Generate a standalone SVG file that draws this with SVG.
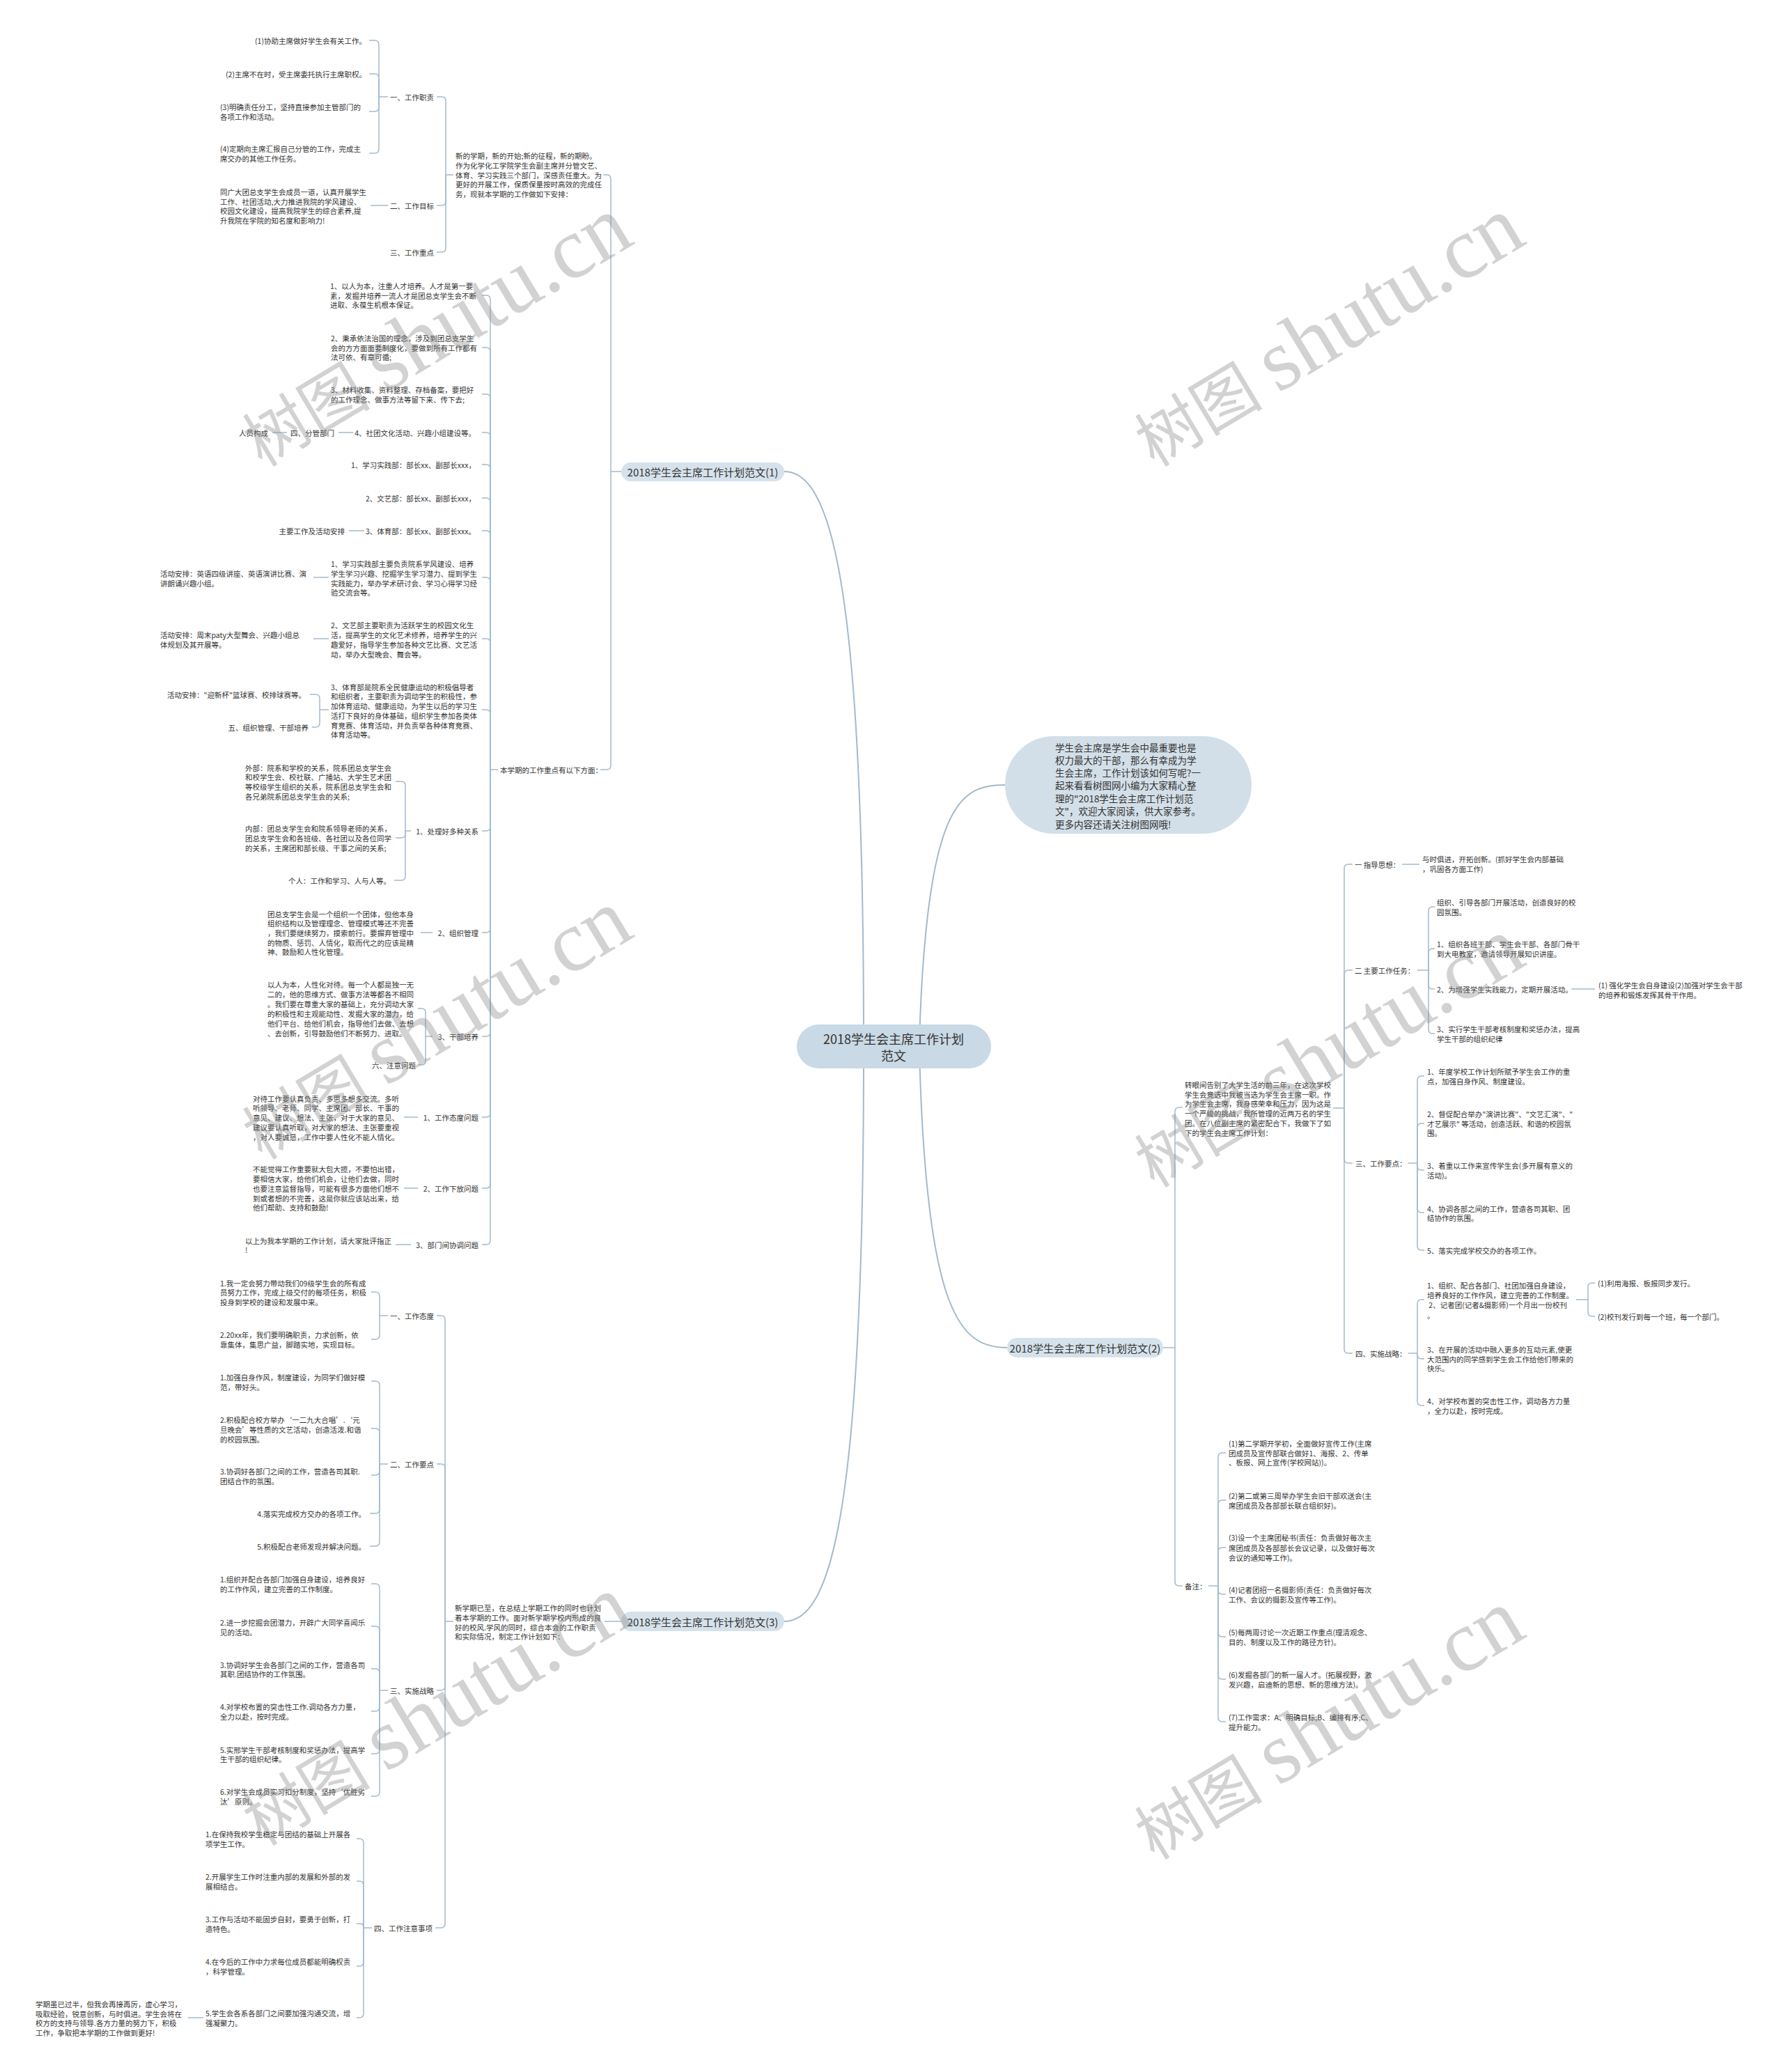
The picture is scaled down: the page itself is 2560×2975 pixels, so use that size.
<svg xmlns="http://www.w3.org/2000/svg" width="2560" height="2975" viewBox="0 0 2560 2975">
<style>
.t{font-family:"Noto Sans CJK SC","Liberation Sans",sans-serif;font-size:10.5px;fill:#333;dominant-baseline:central}
.e{text-anchor:end}
.c{fill:none;stroke:#a3bacb;stroke-width:1.5}
.cr{fill:none;stroke:#a3bacb;stroke-width:2}
.pill{fill:#d6e2eb}
.bt{font-family:"Noto Sans CJK SC","Liberation Sans",sans-serif;font-size:15px;fill:#333;text-anchor:middle;dominant-baseline:central}
.wm{font-family:"Liberation Serif","Noto Sans CJK SC",serif;fill:#8a8a8a;opacity:.38;text-anchor:middle}
</style>
<rect width="2560" height="2975" fill="#fff"/>
<g id="connectors">
<path class="cr" d="M1240,1495 C1240,820 1190,677 1126,677"/>
<path class="cr" d="M1320,1495 C1330,1150 1380,1127 1443,1127"/>
<path class="cr" d="M1320,1510 C1330,1890 1380,1935 1446,1935"/>
<path class="cr" d="M1240,1510 C1240,2190 1190,2328 1126,2328"/>
<!-- branch 1 -->
<path class="c" d="M892,677H877"/>
<path class="c" d="M877,677V257Q877,251 871,251H866"/>
<path class="c" d="M877,677V1099Q877,1105 871,1105H862"/>
<path class="c" d="M651,251H640"/>
<path class="c" d="M640,251V145Q640,139 634,139H627"/>
<path class="c" d="M640,251V289Q640,295 634,295H627"/>
<path class="c" d="M640,251V356Q640,362 634,362H627"/>
<path class="c" d="M557,139H544"/>
<path class="c" d="M544,139V64Q544,58 538,58H530"/>
<path class="c" d="M544,139V112Q544,106 538,106H530"/>
<path class="c" d="M544,139V154Q544,160 538,160H530"/>
<path class="c" d="M544,139V214Q544,220 538,220H530"/>
<path class="c" d="M557,295H532"/>
<path class="c" d="M715,1105H704"/>
<path class="c" d="M704,1105V430Q704,424 698,424H692"/>
<path class="c" d="M704,1105V505Q704,499 698,499H692"/>
<path class="c" d="M704,1105V572Q704,566 698,566H692"/>
<path class="c" d="M704,1105V627Q704,621 698,621H692"/>
<path class="c" d="M704,1105V673Q704,667 698,667H692"/>
<path class="c" d="M704,1105V721Q704,715 698,715H692"/>
<path class="c" d="M704,1105V768Q704,762 698,762H692"/>
<path class="c" d="M704,1105V835Q704,829 698,829H692"/>
<path class="c" d="M704,1105V923Q704,917 698,917H692"/>
<path class="c" d="M704,1105V1025Q704,1019 698,1019H692"/>
<path class="c" d="M704,1105V1187Q704,1193 698,1193H692"/>
<path class="c" d="M704,1105V1333Q704,1339 698,1339H692"/>
<path class="c" d="M704,1105V1482Q704,1488 698,1488H692"/>
<path class="c" d="M704,1105V1598Q704,1604 698,1604H692"/>
<path class="c" d="M704,1105V1700Q704,1706 698,1706H692"/>
<path class="c" d="M704,1105V1781Q704,1787 698,1787H692"/>
<path class="c" d="M507,621H486"/>
<path class="c" d="M412,621H391"/>
<path class="c" d="M523,762H501"/>
<path class="c" d="M472,829H450"/>
<path class="c" d="M472,917H450"/>
<path class="c" d="M472,1019H459"/>
<path class="c" d="M459,1019V1003Q459,997 453,997H445"/>
<path class="c" d="M459,1019V1038Q459,1044 453,1044H448"/>
<path class="c" d="M590,1193H582"/>
<path class="c" d="M582,1193V1128Q582,1122 576,1122H568"/>
<path class="c" d="M582,1193V1197Q582,1203 576,1203H568"/>
<path class="c" d="M582,1193V1258Q582,1264 576,1264H566"/>
<path class="c" d="M621,1339H604"/>
<path class="c" d="M621,1488H611"/>
<path class="c" d="M611,1488V1454Q611,1448 605,1448H600"/>
<path class="c" d="M611,1488V1523Q611,1529 605,1529H601"/>
<path class="c" d="M600,1604H580"/>
<path class="c" d="M600,1706H580"/>
<path class="c" d="M590,1787H568"/>
<!-- branch 3 -->
<path class="c" d="M892,2328H868"/>
<path class="c" d="M651,2328H639"/>
<path class="c" d="M639,2328V1895Q639,1889 633,1889H627"/>
<path class="c" d="M639,2328V2108Q639,2102 633,2102H627"/>
<path class="c" d="M639,2328V2421Q639,2427 633,2427H627"/>
<path class="c" d="M639,2328V2762Q639,2768 633,2768H625"/>
<path class="c" d="M557,1889H545"/>
<path class="c" d="M545,1889V1861Q545,1855 539,1855H533"/>
<path class="c" d="M545,1889V1917Q545,1923 539,1923H533"/>
<path class="c" d="M557,2102H545"/>
<path class="c" d="M545,2102V1989Q545,1983 539,1983H533"/>
<path class="c" d="M545,2102V2057Q545,2051 539,2051H533"/>
<path class="c" d="M545,2102V2112Q545,2118 539,2118H533"/>
<path class="c" d="M545,2102V2167Q545,2173 539,2173H531"/>
<path class="c" d="M545,2102V2214Q545,2220 539,2220H531"/>
<path class="c" d="M557,2427H545"/>
<path class="c" d="M545,2427V2280Q545,2274 539,2274H533"/>
<path class="c" d="M545,2427V2341Q545,2335 539,2335H533"/>
<path class="c" d="M545,2427V2402Q545,2396 539,2396H533"/>
<path class="c" d="M545,2427V2451Q545,2457 539,2457H533"/>
<path class="c" d="M545,2427V2512Q545,2518 539,2518H533"/>
<path class="c" d="M545,2427V2573Q545,2579 539,2579H533"/>
<path class="c" d="M534,2768H522"/>
<path class="c" d="M522,2768V2646Q522,2640 516,2640H512"/>
<path class="c" d="M522,2768V2707Q522,2701 516,2701H512"/>
<path class="c" d="M522,2768V2767Q522,2762 517,2762H512"/>
<path class="c" d="M522,2768V2817Q522,2823 516,2823H512"/>
<path class="c" d="M522,2768V2891Q522,2897 516,2897H512"/>
<path class="c" d="M292,2897H270"/>
<!-- branch 2 -->
<path class="c" d="M1670,1935H1687"/>
<path class="c" d="M1687,1935V1596Q1687,1590 1693,1590H1698"/>
<path class="c" d="M1687,1935V2271Q1687,2277 1693,2277H1698"/>
<path class="c" d="M1914,1591H1930"/>
<path class="c" d="M1930,1591V1247Q1930,1241 1936,1241H1942"/>
<path class="c" d="M1930,1591V1399Q1930,1393 1936,1393H1942"/>
<path class="c" d="M1930,1591V1664Q1930,1670 1936,1670H1942"/>
<path class="c" d="M1930,1591V1937Q1930,1943 1936,1943H1942"/>
<path class="c" d="M2013,1241H2038"/>
<path class="c" d="M2035,1393H2051"/>
<path class="c" d="M2051,1393V1308Q2051,1302 2057,1302H2060"/>
<path class="c" d="M2051,1393V1368Q2051,1362 2057,1362H2060"/>
<path class="c" d="M2051,1393V1414Q2051,1420 2057,1420H2060"/>
<path class="c" d="M2051,1393V1478Q2051,1484 2057,1484H2060"/>
<path class="c" d="M2256,1420H2290"/>
<path class="c" d="M2022,1670H2035"/>
<path class="c" d="M2035,1670V1551Q2035,1545 2041,1545H2045"/>
<path class="c" d="M2035,1670V1619Q2035,1613 2041,1613H2045"/>
<path class="c" d="M2035,1670V1674Q2035,1680 2041,1680H2045"/>
<path class="c" d="M2035,1670V1735Q2035,1741 2041,1741H2045"/>
<path class="c" d="M2035,1670V1789Q2035,1795 2041,1795H2045"/>
<path class="c" d="M2022,1943H2035"/>
<path class="c" d="M2035,1943V1872Q2035,1866 2041,1866H2045"/>
<path class="c" d="M2035,1943V1945Q2035,1951 2041,1951H2045"/>
<path class="c" d="M2035,1943V2012Q2035,2018 2041,2018H2045"/>
<path class="c" d="M2263,1866H2280"/>
<path class="c" d="M2280,1866V1848Q2280,1842 2286,1842H2290"/>
<path class="c" d="M2280,1866V1884Q2280,1890 2286,1890H2290"/>
<path class="c" d="M1735,2277H1749"/>
<path class="c" d="M1749,2277V2092Q1749,2086 1755,2086H1760"/>
<path class="c" d="M1749,2277V2160Q1749,2154 1755,2154H1760"/>
<path class="c" d="M1749,2277V2228Q1749,2222 1755,2222H1760"/>
<path class="c" d="M1749,2277V2283Q1749,2289 1755,2289H1760"/>
<path class="c" d="M1749,2277V2344Q1749,2350 1755,2350H1760"/>
<path class="c" d="M1749,2277V2405Q1749,2411 1755,2411H1760"/>
<path class="c" d="M1749,2277V2466Q1749,2472 1755,2472H1760"/>
</g>
<g id="root">
<rect x="1144" y="1471" width="279" height="63" rx="31.5" fill="#c9d9e5"/>
<text font-family="Noto Sans CJK SC, Liberation Sans, sans-serif" font-size="18" fill="#333" text-anchor="middle" dominant-baseline="central"><tspan x="1283" y="1491">2018学生会主席工作计划</tspan><tspan x="1283" y="1515">范文</tspan></text>
</g>
<g id="intro">
<rect x="1443" y="1057" width="354" height="140" rx="70" fill="#d3dfe8"/>
<text class="t" style="font-size:13.5px"><tspan x="1515" y="1073">学生会主席是学生会中最重要也是</tspan><tspan x="1515" y="1091">权力最大的干部，那么有幸成为学</tspan><tspan x="1515" y="1109">生会主席，工作计划该如何写呢?一</tspan><tspan x="1515" y="1127">起来看看树图网小编为大家精心整</tspan><tspan x="1515" y="1146">理的"2018学生会主席工作计划范</tspan><tspan x="1515" y="1164">文"，欢迎大家阅读，供大家参考。</tspan><tspan x="1515" y="1183">更多内容还请关注树图网哦!</tspan></text>
</g>
<g id="branch1">
<rect class="pill" x="892" y="664" width="234" height="27" rx="13.5"/>
<text class="bt" x="1009" y="677">2018学生会主席工作计划范文(1)</text>
</g>
<g id="branch2">
<rect class="pill" x="1446" y="1921" width="224" height="28" rx="14"/>
<text class="bt" x="1558" y="1935">2018学生会主席工作计划范文(2)</text>
</g>
<g id="branch3">
<rect class="pill" x="892" y="2314" width="234" height="28" rx="14"/>
<text class="bt" x="1009" y="2328">2018学生会主席工作计划范文(3)</text>
</g>
<g id="b1-nodes">
<g id="n1-intro"><text class="t"><tspan x="654" y="223">新的学期，新的开始;新的征程，新的期盼。</tspan><tspan x="654" y="237">作为化学化工学院学生会副主席并分管文艺、</tspan><tspan x="654" y="251">体育、学习实践三个部门，深感责任重大。为</tspan><tspan x="654" y="264">更好的开展工作，保质保量按时高效的完成任</tspan><tspan x="654" y="278">务，现就本学期的工作做如下安排：</tspan></text></g>
<g id="n1-1"><text class="t" x="560" y="139">一、工作职责</text></g>
<g id="n1-1-1"><text class="t e" x="526" y="58">(1)协助主席做好学生会有关工作。</text></g>
<g id="n1-1-2"><text class="t e" x="526" y="106">(2)主席不在时，受主席委托执行主席职权。</text></g>
<g id="n1-1-3"><text class="t"><tspan x="316" y="153">(3)明确责任分工，坚持直接参加主管部门的</tspan><tspan x="316" y="167">各项工作和活动。</tspan></text></g>
<g id="n1-1-4"><text class="t"><tspan x="316" y="213">(4)定期向主席汇报自己分管的工作，完成主</tspan><tspan x="316" y="227">席交办的其他工作任务。</tspan></text></g>
<g id="n1-2"><text class="t" x="560" y="295">二、工作目标</text></g>
<g id="n1-2-1"><text class="t"><tspan x="316" y="275">同广大团总支学生会成员一道，认真开展学生</tspan><tspan x="316" y="289">工作、社团活动,大力推进我院的学风建设、</tspan><tspan x="316" y="302">校园文化建设，提高我院学生的综合素养,提</tspan><tspan x="316" y="316">升我院在学院的知名度和影响力!</tspan></text></g>
<g id="n1-3"><text class="t" x="560" y="362">三、工作重点</text></g>
<g id="n1-k"><text class="t" x="718" y="1105">本学期的工作重点有以下方面：</text></g>
<g id="k1"><text class="t"><tspan x="474" y="410">1、以人为本，注重人才培养。人才是第一要</tspan><tspan x="474" y="424">素，发掘并培养一流人才是团总支学生会不断</tspan><tspan x="474" y="437">进取、永葆生机根本保证。</tspan></text></g>
<g id="k2"><text class="t"><tspan x="475" y="485">2、秉承依法治国的理念，涉及到团总支学生</tspan><tspan x="475" y="499">会的方方面面要制度化，要做到所有工作都有</tspan><tspan x="475" y="512">法可依、有章可循;</tspan></text></g>
<g id="k3"><text class="t"><tspan x="475" y="559">3、材料收集、资料整理、存档备案，要把好</tspan><tspan x="475" y="573">的工作理念、做事方法等留下来、传下去;</tspan></text></g>
<g id="k4"><text class="t e" x="683" y="621">4、社团文化活动、兴趣小组建设等。</text></g>
<g id="k4a"><text class="t e" x="480" y="621">四、分管部门</text></g>
<g id="k4b"><text class="t e" x="385" y="621">人员构成</text></g>
<g id="k5"><text class="t e" x="683" y="667">1、学习实践部：部长xx、副部长xxx，</text></g>
<g id="k6"><text class="t e" x="683" y="715">2、文艺部：部长xx、副部长xxx，</text></g>
<g id="k7"><text class="t e" x="683" y="762">3、体育部：部长xx、副部长xxx。</text></g>
<g id="k7a"><text class="t e" x="495" y="762">主要工作及活动安排</text></g>
<g id="k8"><text class="t"><tspan x="475" y="809">1、学习实践部主要负责院系学风建设、培养</tspan><tspan x="475" y="823">学生学习兴趣、挖掘学生学习潜力、提到学生</tspan><tspan x="475" y="837">实践能力，举办学术研讨会、学习心得学习经</tspan><tspan x="475" y="850">验交流会等。</tspan></text></g>
<g id="k8a"><text class="t"><tspan x="230" y="823">活动安排：英语四级讲座、英语演讲比赛、演</tspan><tspan x="230" y="837">讲朗诵兴趣小组。</tspan></text></g>
<g id="k9"><text class="t"><tspan x="475" y="897">2、文艺部主要职责为活跃学生的校园文化生</tspan><tspan x="475" y="911">活，提高学生的文化艺术修养，培养学生的兴</tspan><tspan x="475" y="925">趣爱好，指导学生参加各种文艺比赛、文艺活</tspan><tspan x="475" y="939">动，举办大型晚会、舞会等。</tspan></text></g>
<g id="k9a"><text class="t"><tspan x="230" y="911">活动安排：周末paty大型舞会、兴趣小组总</tspan><tspan x="230" y="925">体规划及其开展等。</tspan></text></g>
<g id="k10"><text class="t"><tspan x="475" y="986">3、体育部是院系全民健康运动的积极倡导者</tspan><tspan x="475" y="999">和组织者，主要职责为调动学生的积极性，参</tspan><tspan x="475" y="1013">加体育运动、健康运动，为学生以后的学习生</tspan><tspan x="475" y="1027">活打下良好的身体基础，组织学生参加各类体</tspan><tspan x="475" y="1041">育竞赛、体育活动，并负责举各种体育竞赛、</tspan><tspan x="475" y="1054">体育活动等。</tspan></text></g>
<g id="k10a"><text class="t e" x="439" y="997">活动安排："迎新杯"篮球赛、校排球赛等。</text></g>
<g id="k10b"><text class="t e" x="443" y="1044">五、组织管理、干部培养</text></g>
<g id="k11"><text class="t e" x="687" y="1193">1、处理好多种关系</text></g>
<g id="k11a"><text class="t"><tspan x="352" y="1102">外部：院系和学校的关系，院系团总支学生会</tspan><tspan x="352" y="1115">和校学生会、校社联、广播站、大学生艺术团</tspan><tspan x="352" y="1129">等校级学生组织的关系，院系团总支学生会和</tspan><tspan x="352" y="1143">各兄弟院系团总支学生会的关系;</tspan></text></g>
<g id="k11b"><text class="t"><tspan x="352" y="1189">内部：团总支学生会和院系领导老师的关系，</tspan><tspan x="352" y="1203">团总支学生会和各班级、各社团以及各位同学</tspan><tspan x="352" y="1217">的关系，主席团和部长级、干事之间的关系;</tspan></text></g>
<g id="k11c"><text class="t e" x="561" y="1264">个人：工作和学习、人与人等。</text></g>
<g id="k12"><text class="t e" x="687" y="1339">2、组织管理</text></g>
<g id="k12a"><text class="t"><tspan x="384" y="1312">团总支学生会是一个组织一个团体，但他本身</tspan><tspan x="384" y="1325">组织结构以及管理理念、管理模式等还不完善</tspan><tspan x="384" y="1339">，我们要继续努力，摸索前行。要摒弃管理中</tspan><tspan x="384" y="1353">的物质、惩罚、人情化，取而代之的应该是精</tspan><tspan x="384" y="1366">神、鼓励和人性化管理。</tspan></text></g>
<g id="k13"><text class="t e" x="687" y="1488">3、干部培养</text></g>
<g id="k13a"><text class="t"><tspan x="384" y="1413">以人为本，人性化对待。每一个人都是独一无</tspan><tspan x="384" y="1427">二的，他的思维方式、做事方法等都各不相同</tspan><tspan x="384" y="1441">。我们要在尊重大家的基础上，充分调动大家</tspan><tspan x="384" y="1455">的积极性和主观能动性、发掘大家的潜力，给</tspan><tspan x="384" y="1469">他们平台、给他们机会，指导他们去做、去想</tspan><tspan x="384" y="1483">、去创新，引导鼓励他们不断努力、进取。</tspan></text></g>
<g id="k13b"><text class="t e" x="597" y="1529">六、注意问题</text></g>
<g id="k14"><text class="t e" x="687" y="1604">1、工作态度问题</text></g>
<g id="k14a"><text class="t"><tspan x="363" y="1577">对待工作要认真负责、多思多想多交流。多听</tspan><tspan x="363" y="1590">听领导、老师、同学、主席团、部长、干事的</tspan><tspan x="363" y="1604">意见、建议、想法、主张，对于大家的意见、</tspan><tspan x="363" y="1618">建议要认真听取，对大家的想法、主张要重视</tspan><tspan x="363" y="1632">，对人要诚恳，工作中要人性化不能人情化。</tspan></text></g>
<g id="k15"><text class="t e" x="687" y="1706">2、工作下放问题</text></g>
<g id="k15a"><text class="t"><tspan x="363" y="1678">不能觉得工作重要就大包大揽，不要怕出错，</tspan><tspan x="363" y="1692">要相信大家，给他们机会，让他们去做，同时</tspan><tspan x="363" y="1706">也要注意监督指导，可能有很多方面他们想不</tspan><tspan x="363" y="1720">到或者想的不完善，这是你就应该站出来，给</tspan><tspan x="363" y="1733">他们帮助、支持和鼓励!</tspan></text></g>
<g id="k16"><text class="t e" x="687" y="1787">3、部门间协调问题</text></g>
<g id="k16a"><text class="t"><tspan x="352" y="1781">以上为我本学期的工作计划，请大家批评指正</tspan><tspan x="352" y="1794">!</tspan></text></g>
</g>
<g id="b3-nodes">
<g id="m-intro"><text class="t"><tspan x="653" y="2308">新学期已至，在总结上学期工作的同时也计划</tspan><tspan x="653" y="2322">着本学期的工作。面对新学期学校内形成的良</tspan><tspan x="653" y="2336">好的校风.学风的同时，综合本会的工作职责</tspan><tspan x="653" y="2349">和实际情况，制定工作计划如下：</tspan></text></g>
<g id="m1"><text class="t" x="560" y="1889">一、工作态度</text></g>
<g id="m1a"><text class="t"><tspan x="316" y="1842">1.我一定会努力带动我们09级学生会的所有成</tspan><tspan x="316" y="1855">员努力工作，完成上级交付的每项任务，积极</tspan><tspan x="316" y="1869">投身到学校的建设和发展中来。</tspan></text></g>
<g id="m1b"><text class="t"><tspan x="316" y="1916">2.20xx年，我们要明确职责，力求创新，依</tspan><tspan x="316" y="1930">靠集体，集思广益，脚踏实地，实现目标。</tspan></text></g>
<g id="m2"><text class="t" x="560" y="2102">二、工作要点</text></g>
<g id="m2a"><text class="t"><tspan x="316" y="1977">1.加强自身作风，制度建设，为同学们做好模</tspan><tspan x="316" y="1991">范，带好头。</tspan></text></g>
<g id="m2b"><text class="t"><tspan x="316" y="2038">2.积极配合校方举办‘一二九大合唱’.‘元</tspan><tspan x="316" y="2052">旦晚会’等性质的文艺活动，创造活泼.和谐</tspan><tspan x="316" y="2066">的校园氛围。</tspan></text></g>
<g id="m2c"><text class="t"><tspan x="316" y="2112">3.协调好各部门之间的工作，营造各司其职.</tspan><tspan x="316" y="2126">团结合作的氛围。</tspan></text></g>
<g id="m2d"><text class="t e" x="525" y="2173">4.落实完成校方交办的各项工作。</text></g>
<g id="m2e"><text class="t e" x="525" y="2220">5.积极配合老师发现并解决问题。</text></g>
<g id="m3"><text class="t" x="560" y="2427">三、实施战略</text></g>
<g id="m3a"><text class="t"><tspan x="316" y="2267">1.组织并配合各部门加强自身建设，培养良好</tspan><tspan x="316" y="2281">的工作作风，建立完善的工作制度。</tspan></text></g>
<g id="m3b"><text class="t"><tspan x="316" y="2329">2.进一步挖掘会团潜力，开辟广大同学喜闻乐</tspan><tspan x="316" y="2343">见的活动。</tspan></text></g>
<g id="m3c"><text class="t"><tspan x="316" y="2390">3.协调好学生会各部门之间的工作，营造各司</tspan><tspan x="316" y="2403">其职.团结协作的工作氛围。</tspan></text></g>
<g id="m3d"><text class="t"><tspan x="316" y="2450">4.对学校布置的突击性工作.调动各方力量，</tspan><tspan x="316" y="2464">全力以赴，按时完成。</tspan></text></g>
<g id="m3e"><text class="t"><tspan x="316" y="2512">5.实邢学生干部考核制度和奖惩办法，提高学</tspan><tspan x="316" y="2525">生干部的组织纪律。</tspan></text></g>
<g id="m3f"><text class="t"><tspan x="316" y="2572">6.对学生会成员实习扣分制度，坚持‘优胜劣</tspan><tspan x="316" y="2586">汰’原则。</tspan></text></g>
<g id="m4"><text class="t" x="537" y="2768">四、工作注意事项</text></g>
<g id="m4a"><text class="t"><tspan x="295" y="2633">1.在保持我校学生稳定与团结的基础上开展各</tspan><tspan x="295" y="2647">项学生工作。</tspan></text></g>
<g id="m4b"><text class="t"><tspan x="295" y="2694">2.开展学生工作时注重内部的发展和外部的发</tspan><tspan x="295" y="2708">展相结合。</tspan></text></g>
<g id="m4c"><text class="t"><tspan x="295" y="2755">3.工作与活动不能固步自封，要勇于创新，打</tspan><tspan x="295" y="2769">造特色。</tspan></text></g>
<g id="m4d"><text class="t"><tspan x="295" y="2816">4.在今后的工作中力求每位成员都能明确权责</tspan><tspan x="295" y="2830">，科学管理。</tspan></text></g>
<g id="m4e"><text class="t"><tspan x="295" y="2890">5.学生会各系各部门之间要加强沟通交流，增</tspan><tspan x="295" y="2904">强凝聚力。</tspan></text></g>
<g id="m4e1"><text class="t"><tspan x="51" y="2877">学期虽已过半，但我会再接再厉，虚心学习，</tspan><tspan x="51" y="2891">吸取经验，锐意创新，与时俱进。学生会将在</tspan><tspan x="51" y="2904">校方的支持与领导.各方力量的努力下，积极</tspan><tspan x="51" y="2918">工作，争取把本学期的工作做到更好!</tspan></text></g>
</g>
<g id="b2-nodes">
<g id="r-intro"><text class="t"><tspan x="1701" y="1557">转眼间告别了大学生活的前三年，在这次学校</tspan><tspan x="1701" y="1571">学生会竞选中我被当选为学生会主席一职。作</tspan><tspan x="1701" y="1584">为学生会主席，我身感荣幸和压力，因为这是</tspan><tspan x="1701" y="1598">一个严峻的挑战，我所管理的近两万名的学生</tspan><tspan x="1701" y="1612">团。在八位副主席的紧密配合下，我做下了如</tspan><tspan x="1701" y="1626">下的学生会主席工作计划：</tspan></text></g>
<g id="r1"><text class="t" x="1945" y="1241">一 指导思想：</text></g>
<g id="r1a"><text class="t"><tspan x="2042" y="1233">与时俱进，开拓创新。(抓好学生会内部基础</tspan><tspan x="2042" y="1247">，巩固各方面工作)</tspan></text></g>
<g id="r2"><text class="t" x="1945" y="1393">二 主要工作任务：</text></g>
<g id="r2a"><text class="t"><tspan x="2063" y="1295">组织、引导各部门开展活动，创造良好的校</tspan><tspan x="2063" y="1309">园氛围。</tspan></text></g>
<g id="r2b"><text class="t"><tspan x="2063" y="1355">1、组织各班干部、学生会干部、各部门骨干</tspan><tspan x="2063" y="1369">到大电教室，邀请领导开展知识讲座。</tspan></text></g>
<g id="r2c"><text class="t" x="2063" y="1420">2、为增强学生实践能力，定期开展活动。</text></g>
<g id="r2c1"><text class="t"><tspan x="2295" y="1414">(1) 强化学生会自身建设(2)加强对学生会干部</tspan><tspan x="2295" y="1428">的培养和锻炼发挥其骨干作用。</tspan></text></g>
<g id="r2d"><text class="t"><tspan x="2063" y="1477">3、实行学生干部考核制度和奖惩办法，提高</tspan><tspan x="2063" y="1491">学生干部的组织纪律</tspan></text></g>
<g id="r3"><text class="t" x="1946" y="1670">三、工作要点：</text></g>
<g id="r3a"><text class="t"><tspan x="2049" y="1538">1、年度学校工作计划所赋予学生会工作的重</tspan><tspan x="2049" y="1552">点，加强自身作风、制度建设。</tspan></text></g>
<g id="r3b"><text class="t"><tspan x="2049" y="1599">2、督促配合举办"演讲比赛"、"文艺汇演"、"</tspan><tspan x="2049" y="1613">才艺展示" 等活动，创造活跃、和谐的校园氛</tspan><tspan x="2049" y="1626">围。</tspan></text></g>
<g id="r3c"><text class="t"><tspan x="2049" y="1673">3、着重以工作来宣传学生会(多开展有意义的</tspan><tspan x="2049" y="1687">活动)。</tspan></text></g>
<g id="r3d"><text class="t"><tspan x="2049" y="1735">4、协调各部之间的工作，营造各司其职、团</tspan><tspan x="2049" y="1748">结协作的氛围。</tspan></text></g>
<g id="r3e"><text class="t" x="2049" y="1795">5、落实完成学校交办的各项工作。</text></g>
<g id="r4"><text class="t" x="1946" y="1943">四、实施战略：</text></g>
<g id="r4a"><text class="t"><tspan x="2049" y="1845">1、组织、配合各部门、社团加强自身建设，</tspan><tspan x="2049" y="1859">培养良好的工作作风，建立完善的工作制度。</tspan><tspan x="2049" y="1873"> 2、记者团(记者&amp;摄影师)一个月出一份校刊</tspan><tspan x="2049" y="1888">。</tspan></text></g>
<g id="r4a1"><text class="t" x="2294" y="1842">(1)利用海报、板报同步发行。</text></g>
<g id="r4a2"><text class="t" x="2294" y="1890">(2)校刊发行到每一个班，每一个部门。</text></g>
<g id="r4b"><text class="t"><tspan x="2049" y="1937">3、在开展的活动中融入更多的互动元素,使更</tspan><tspan x="2049" y="1951">大范围内的同学感到学生会工作给他们带来的</tspan><tspan x="2049" y="1964">快乐。</tspan></text></g>
<g id="r4c"><text class="t"><tspan x="2049" y="2011">4、对学校布置的突击性工作，调动各方力量</tspan><tspan x="2049" y="2025">，全力以赴，按时完成。</tspan></text></g>
<g id="r5"><text class="t" x="1701" y="2277">备注：</text></g>
<g id="r5a"><text class="t"><tspan x="1764" y="2072">(1)第二学期开学初，全面做好宣传工作(主席</tspan><tspan x="1764" y="2086">团成员及宣传部联合做好1、海报、2、传单</tspan><tspan x="1764" y="2099">、板报、网上宣传(学校网站))。</tspan></text></g>
<g id="r5b"><text class="t"><tspan x="1764" y="2147">(2)第二或第三周举办学生会旧干部欢送会(主</tspan><tspan x="1764" y="2161">席团成员及各部部长联合组织好)。</tspan></text></g>
<g id="r5c"><text class="t"><tspan x="1764" y="2207">(3)设一个主席团秘书(责任：负责做好每次主</tspan><tspan x="1764" y="2222">席团成员及各部部长会议记录，以及做好每次</tspan><tspan x="1764" y="2236">会议的通知等工作)。</tspan></text></g>
<g id="r5d"><text class="t"><tspan x="1764" y="2282">(4)记者团招一名摄影师(责任：负责做好每次</tspan><tspan x="1764" y="2296">工作、会议的摄影及宣传等工作)。</tspan></text></g>
<g id="r5e"><text class="t"><tspan x="1764" y="2343">(5)每两周讨论一次近期工作重点(理清观念、</tspan><tspan x="1764" y="2357">目的、制度以及工作的路径方针)。</tspan></text></g>
<g id="r5f"><text class="t"><tspan x="1764" y="2404">(6)发掘各部门的新一届人才。(拓展视野，激</tspan><tspan x="1764" y="2418">发兴趣，启迪新的思想、新的思维方法)。</tspan></text></g>
<g id="r5g"><text class="t"><tspan x="1764" y="2465">(7)工作需求：A、明确目标;B、编排有序;C、</tspan><tspan x="1764" y="2479">提升能力。</tspan></text></g>
</g>
<g id="watermarks">
<text class="wm" transform="translate(645,510) rotate(-31)"><tspan font-size="92">树图 </tspan><tspan font-size="125">shutu.cn</tspan></text>
<text class="wm" transform="translate(1926,510) rotate(-31)"><tspan font-size="92">树图 </tspan><tspan font-size="125">shutu.cn</tspan></text>
<text class="wm" transform="translate(645,1505) rotate(-31)"><tspan font-size="92">树图 </tspan><tspan font-size="125">shutu.cn</tspan></text>
<text class="wm" transform="translate(1926,1545) rotate(-31)"><tspan font-size="92">树图 </tspan><tspan font-size="125">shutu.cn</tspan></text>
<text class="wm" transform="translate(645,2490) rotate(-31)"><tspan font-size="92">树图 </tspan><tspan font-size="125">shutu.cn</tspan></text>
<text class="wm" transform="translate(1926,2510) rotate(-31)"><tspan font-size="92">树图 </tspan><tspan font-size="125">shutu.cn</tspan></text>
</g>
</svg>
